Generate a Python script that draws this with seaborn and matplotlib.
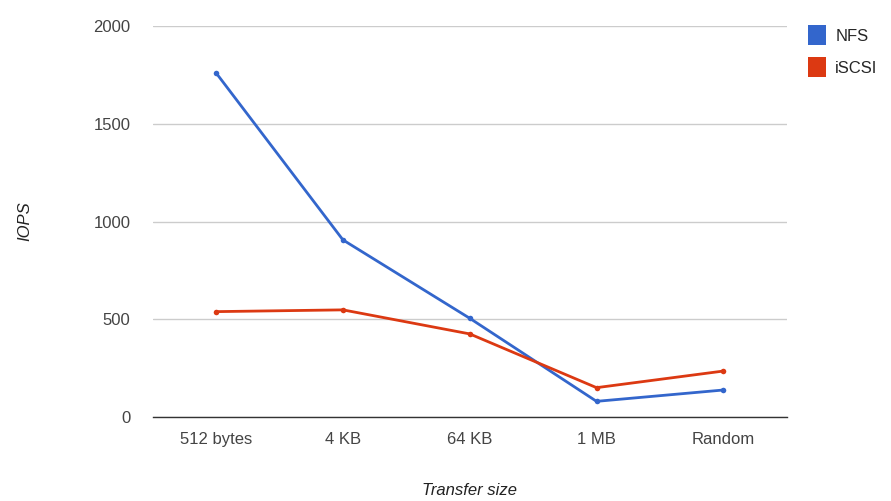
import numpy as np
import pandas as pd
import matplotlib
matplotlib.use('Agg')
import matplotlib.pyplot as plt
from matplotlib.patches import Patch
import seaborn as sns

# values
sizes = ['512 bytes', '4 KB', '64 KB', '1 MB', 'Random']
nfs_iops = [1760, 906, 505, 80, 138]
iscsi_iops = [539, 548, 425, 150, 235]
series = ['NFS', 'iSCSI']
colors = {'NFS': '#3366cc', 'iSCSI': '#dc3912'}

df = pd.DataFrame({
    'size': sizes * 2,
    'pos': list(range(len(sizes))) * 2,
    'iops': nfs_iops + iscsi_iops,
    'protocol': ['NFS'] * len(sizes) + ['iSCSI'] * len(sizes),
})

sns.set_theme(style='white')
plt.rcParams['font.family'] = ['Liberation Sans', 'DejaVu Sans']

fig = plt.figure(figsize=(8.91, 5.01), dpi=100)
ax = fig.add_axes([0.1714, 0.1677, 0.7116, 0.7803])

sns.lineplot(data=df, x='pos', y='iops', hue='protocol', hue_order=series,
             palette=colors, marker='o', markersize=4, markeredgewidth=0,
             linewidth=2, ax=ax, legend=False)

ax.set_xlim(-0.5, len(sizes) - 0.5)
ax.set_ylim(0, 2000)
ax.set_yticks([0, 500, 1000, 1500, 2000])
ax.set_xticks(range(len(sizes)))
ax.set_xticklabels(sizes)
ax.yaxis.grid(True, color='#cccccc', linewidth=1)
ax.set_axisbelow(True)
for side in ['top', 'right', 'left']:
    ax.spines[side].set_visible(False)
ax.spines['bottom'].set_color('#333333')
ax.spines['bottom'].set_linewidth(1)
ax.tick_params(axis='both', length=0, labelsize=12, colors='#444444')
ax.tick_params(axis='y', pad=16)
ax.tick_params(axis='x', pad=11)

ax.set_xlabel('Transfer size', fontsize=12, style='italic', color='#222222', labelpad=26)
ax.set_ylabel('IOPS', fontsize=12, style='italic', color='#222222', labelpad=44)

handles = [Patch(facecolor=colors[s], edgecolor='none', label=s) for s in series]
fig.legend(handles=handles, loc='upper left', bbox_to_anchor=(0.899, 0.963),
           frameon=False, fontsize=12, handlelength=1.1, handleheight=1.45,
           handletextpad=0.55, labelspacing=0.75, borderaxespad=0)

fig.savefig('out.png', dpi=100)
